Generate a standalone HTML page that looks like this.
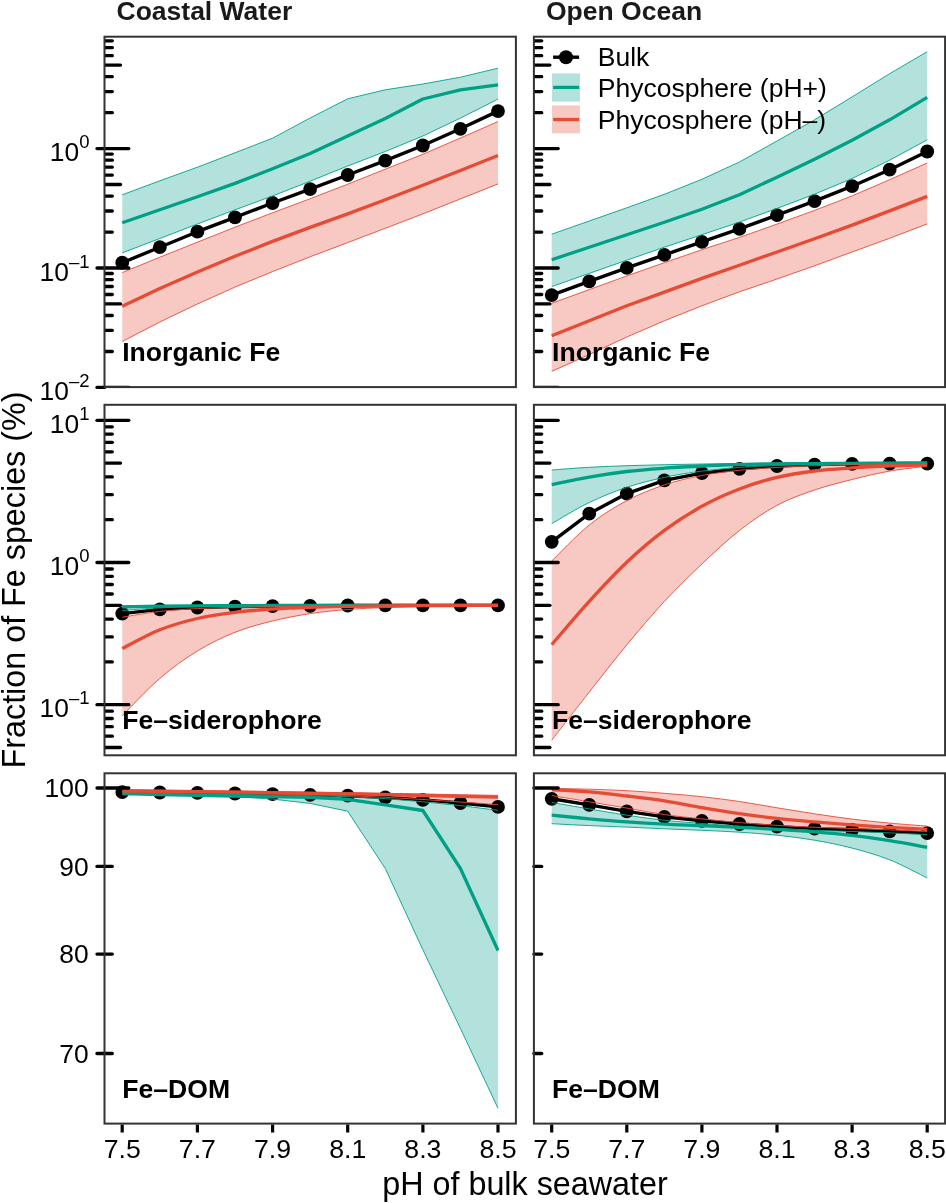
<!DOCTYPE html>
<html><head><meta charset="utf-8"><title>Fe species</title>
<style>
html,body{margin:0;padding:0;background:#fff;}
body{width:946px;height:1203px;overflow:hidden;}
svg{display:block;will-change:transform;}
text{font-family:"Liberation Sans",sans-serif;}
</style></head><body>
<svg width="946" height="1203" viewBox="0 0 946 1203">
<rect width="946" height="1203" fill="#fff"/>

<defs>
<clipPath id="c00"><rect x="104.5" y="36.7" width="411.4" height="350.40000000000003"/></clipPath>
<clipPath id="c01"><rect x="104.5" y="404.8" width="411.4" height="350.49999999999994"/></clipPath>
<clipPath id="c02"><rect x="104.5" y="773.3" width="411.4" height="350.29999999999995"/></clipPath>
<clipPath id="c10"><rect x="533.9" y="36.7" width="411.20000000000005" height="350.40000000000003"/></clipPath>
<clipPath id="c11"><rect x="533.9" y="404.8" width="411.20000000000005" height="350.49999999999994"/></clipPath>
<clipPath id="c12"><rect x="533.9" y="773.3" width="411.20000000000005" height="350.29999999999995"/></clipPath>
</defs>
<!-- panel A -->
<g clip-path="url(#c00)"><path d="M122.25,194.8 L159.82,180.8 L197.40,167.2 L234.98,152.8 L272.55,138.2 L310.12,118.0 L347.70,98.8 L385.28,89.8 L422.85,84.0 L460.43,77.2 L498.00,68.2 L498.00,99.1 L460.43,118.1 L422.85,136.0 L385.28,151.5 L347.70,166.0 L310.12,181.2 L272.55,196.0 L234.98,209.8 L197.40,224.0 L159.82,238.5 L122.25,252.9Z" fill="#00A087" fill-opacity="0.3" stroke="none"/><path d="M122.25,272.6 L159.82,257.2 L197.40,242.2 L234.98,227.2 L272.55,212.8 L310.12,198.7 L347.70,184.2 L385.28,169.2 L422.85,154.3 L460.43,138.0 L498.00,121.6 L498.00,183.9 L460.43,198.9 L422.85,213.9 L385.28,228.3 L347.70,242.6 L310.12,256.8 L272.55,271.6 L234.98,287.1 L197.40,304.0 L159.82,322.0 L122.25,341.5Z" fill="#E64B35" fill-opacity="0.3" stroke="none"/><polyline points="122.25,262.7 159.82,247.2 197.40,231.7 234.98,217.3 272.55,203.0 310.12,189.1 347.70,175.0 385.28,160.7 422.85,145.5 460.43,128.8 498.00,111.1" fill="none" stroke="#000" stroke-width="3.4" stroke-linejoin="round"/><circle cx="122.25" cy="262.7" r="6.9" fill="#000"/><circle cx="159.82" cy="247.2" r="6.9" fill="#000"/><circle cx="197.40" cy="231.7" r="6.9" fill="#000"/><circle cx="234.98" cy="217.3" r="6.9" fill="#000"/><circle cx="272.55" cy="203.0" r="6.9" fill="#000"/><circle cx="310.12" cy="189.1" r="6.9" fill="#000"/><circle cx="347.70" cy="175.0" r="6.9" fill="#000"/><circle cx="385.28" cy="160.7" r="6.9" fill="#000"/><circle cx="422.85" cy="145.5" r="6.9" fill="#000"/><circle cx="460.43" cy="128.8" r="6.9" fill="#000"/><circle cx="498.00" cy="111.1" r="6.9" fill="#000"/><path d="M122.25,194.8 L159.82,180.8 L197.40,167.2 L234.98,152.8 L272.55,138.2 L310.12,118.0 L347.70,98.8 L385.28,89.8 L422.85,84.0 L460.43,77.2 L498.00,68.2" fill="none" stroke="#00A087" stroke-width="0.9"/><path d="M122.25,252.9 L159.82,238.5 L197.40,224.0 L234.98,209.8 L272.55,196.0 L310.12,181.2 L347.70,166.0 L385.28,151.5 L422.85,136.0 L460.43,118.1 L498.00,99.1" fill="none" stroke="#00A087" stroke-width="0.9"/><path d="M122.25,222.7 L159.82,209.8 L197.40,196.8 L234.98,183.4 L272.55,168.8 L310.12,153.5 L347.70,136.0 L385.28,118.5 L422.85,99.0 L460.43,89.9 L498.00,84.9" fill="none" stroke="#00A087" stroke-width="3.3" stroke-linejoin="round"/><path d="M122.25,272.6 L159.82,257.2 L197.40,242.2 L234.98,227.2 L272.55,212.8 L310.12,198.7 L347.70,184.2 L385.28,169.2 L422.85,154.3 L460.43,138.0 L498.00,121.6" fill="none" stroke="#E64B35" stroke-width="0.9"/><path d="M122.25,341.5 L159.82,322.0 L197.40,304.0 L234.98,287.1 L272.55,271.6 L310.12,256.8 L347.70,242.6 L385.28,228.3 L422.85,213.9 L460.43,198.9 L498.00,183.9" fill="none" stroke="#E64B35" stroke-width="0.9"/><path d="M122.25,306.3 L159.82,288.4 L197.40,272.1 L234.98,256.2 L272.55,241.4 L310.12,227.4 L347.70,213.9 L385.28,199.7 L422.85,185.2 L460.43,170.5 L498.00,155.5" fill="none" stroke="#E64B35" stroke-width="3.3" stroke-linejoin="round"/></g>
<g stroke="#000" stroke-width="3.3" stroke-linecap="round" clip-path="url(#c00)"><line x1="104.5" y1="387.4" x2="128.8" y2="387.4"/><line x1="104.5" y1="351.5" x2="112.3" y2="351.5"/><line x1="104.5" y1="330.4" x2="112.3" y2="330.4"/><line x1="104.5" y1="315.5" x2="112.3" y2="315.5"/><line x1="104.5" y1="303.9" x2="120.5" y2="303.9"/><line x1="104.5" y1="294.5" x2="112.3" y2="294.5"/><line x1="104.5" y1="286.5" x2="112.3" y2="286.5"/><line x1="104.5" y1="279.6" x2="112.3" y2="279.6"/><line x1="104.5" y1="273.5" x2="112.3" y2="273.5"/><line x1="104.5" y1="268.0" x2="128.8" y2="268.0"/><line x1="104.5" y1="232.1" x2="112.3" y2="232.1"/><line x1="104.5" y1="211.0" x2="112.3" y2="211.0"/><line x1="104.5" y1="196.1" x2="112.3" y2="196.1"/><line x1="104.5" y1="184.5" x2="120.5" y2="184.5"/><line x1="104.5" y1="175.1" x2="112.3" y2="175.1"/><line x1="104.5" y1="167.1" x2="112.3" y2="167.1"/><line x1="104.5" y1="160.2" x2="112.3" y2="160.2"/><line x1="104.5" y1="154.1" x2="112.3" y2="154.1"/><line x1="104.5" y1="148.6" x2="128.8" y2="148.6"/><line x1="104.5" y1="112.7" x2="112.3" y2="112.7"/><line x1="104.5" y1="91.6" x2="112.3" y2="91.6"/><line x1="104.5" y1="76.7" x2="112.3" y2="76.7"/><line x1="104.5" y1="65.1" x2="120.5" y2="65.1"/><line x1="104.5" y1="55.7" x2="112.3" y2="55.7"/><line x1="104.5" y1="47.7" x2="112.3" y2="47.7"/><line x1="104.5" y1="40.8" x2="112.3" y2="40.8"/></g><g stroke="#000" stroke-width="3.3" stroke-linecap="round"><line x1="97.0" y1="387.4" x2="104.5" y2="387.4"/><line x1="97.0" y1="268.0" x2="104.5" y2="268.0"/><line x1="97.0" y1="148.6" x2="104.5" y2="148.6"/></g>
<rect x="104.5" y="36.7" width="411.4" height="350.4" fill="none" stroke="#333" stroke-width="2"/>
<!-- panel C -->
<g clip-path="url(#c01)"><path d="M122.25,605.80C128.51,605.75 147.30,605.58 159.82,605.50C172.35,605.42 184.88,605.35 197.40,605.30C209.93,605.25 222.45,605.23 234.98,605.20C247.50,605.17 260.03,605.12 272.55,605.10C285.07,605.08 297.60,605.10 310.12,605.10C322.65,605.10 335.18,605.10 347.70,605.10C360.23,605.10 372.75,605.10 385.28,605.10C397.80,605.10 410.33,605.10 422.85,605.10C435.38,605.10 447.90,605.10 460.43,605.10C472.95,605.10 491.74,605.10 498.00,605.10L498.00,605.50C491.74,605.50 472.95,605.50 460.43,605.50C447.90,605.50 435.38,605.50 422.85,605.50C410.33,605.50 397.80,605.50 385.28,605.50C372.75,605.50 360.23,605.48 347.70,605.50C335.18,605.52 322.65,605.55 310.12,605.60C297.60,605.65 285.07,605.72 272.55,605.80C260.03,605.88 247.50,605.97 234.98,606.10C222.45,606.23 209.93,606.32 197.40,606.60C184.88,606.88 172.35,607.15 159.82,607.80C147.30,608.45 128.51,610.05 122.25,610.50Z" fill="#00A087" fill-opacity="0.3" stroke="none"/><path d="M122.25,617.20C128.51,616.23 147.30,612.83 159.82,611.40C172.35,609.97 184.88,609.27 197.40,608.60C209.93,607.93 222.45,607.72 234.98,607.40C247.50,607.08 260.03,606.88 272.55,606.70C285.07,606.52 297.60,606.42 310.12,606.30C322.65,606.18 335.18,606.08 347.70,606.00C360.23,605.92 372.75,605.85 385.28,605.80C397.80,605.75 410.33,605.73 422.85,605.70C435.38,605.67 447.90,605.63 460.43,605.60C472.95,605.57 491.74,605.52 498.00,605.50L498.00,605.70C491.74,605.75 472.95,605.87 460.43,606.00C447.90,606.13 435.38,606.25 422.85,606.50C410.33,606.75 397.80,607.00 385.28,607.50C372.75,608.00 360.23,608.48 347.70,609.50C335.18,610.52 322.65,611.68 310.12,613.60C297.60,615.52 285.07,617.88 272.55,621.00C260.03,624.12 247.50,627.30 234.98,632.30C222.45,637.30 209.93,643.32 197.40,651.00C184.88,658.68 172.35,667.60 159.82,678.40C147.30,689.20 128.51,709.57 122.25,715.80Z" fill="#E64B35" fill-opacity="0.3" stroke="none"/><polyline points="122.25,613.6 159.82,609.4 197.40,607.5 234.98,606.6 272.55,606.1 310.12,605.8 347.70,605.5 385.28,605.4 422.85,605.4 460.43,605.4 498.00,605.4" fill="none" stroke="#000" stroke-width="3.4" stroke-linejoin="round"/><circle cx="122.25" cy="613.6" r="6.9" fill="#000"/><circle cx="159.82" cy="609.4" r="6.9" fill="#000"/><circle cx="197.40" cy="607.5" r="6.9" fill="#000"/><circle cx="234.98" cy="606.6" r="6.9" fill="#000"/><circle cx="272.55" cy="606.1" r="6.9" fill="#000"/><circle cx="310.12" cy="605.8" r="6.9" fill="#000"/><circle cx="347.70" cy="605.5" r="6.9" fill="#000"/><circle cx="385.28" cy="605.4" r="6.9" fill="#000"/><circle cx="422.85" cy="605.4" r="6.9" fill="#000"/><circle cx="460.43" cy="605.4" r="6.9" fill="#000"/><circle cx="498.00" cy="605.4" r="6.9" fill="#000"/><path d="M122.25,605.80C128.51,605.75 147.30,605.58 159.82,605.50C172.35,605.42 184.88,605.35 197.40,605.30C209.93,605.25 222.45,605.23 234.98,605.20C247.50,605.17 260.03,605.12 272.55,605.10C285.07,605.08 297.60,605.10 310.12,605.10C322.65,605.10 335.18,605.10 347.70,605.10C360.23,605.10 372.75,605.10 385.28,605.10C397.80,605.10 410.33,605.10 422.85,605.10C435.38,605.10 447.90,605.10 460.43,605.10C472.95,605.10 491.74,605.10 498.00,605.10" fill="none" stroke="#00A087" stroke-width="0.9"/><path d="M122.25,610.50C128.51,610.05 147.30,608.45 159.82,607.80C172.35,607.15 184.88,606.88 197.40,606.60C209.93,606.32 222.45,606.23 234.98,606.10C247.50,605.97 260.03,605.88 272.55,605.80C285.07,605.72 297.60,605.65 310.12,605.60C322.65,605.55 335.18,605.52 347.70,605.50C360.23,605.48 372.75,605.50 385.28,605.50C397.80,605.50 410.33,605.50 422.85,605.50C435.38,605.50 447.90,605.50 460.43,605.50C472.95,605.50 491.74,605.50 498.00,605.50" fill="none" stroke="#00A087" stroke-width="0.9"/><path d="M122.25,606.80C128.51,606.68 147.30,606.27 159.82,606.10C172.35,605.93 184.88,605.88 197.40,605.80C209.93,605.72 222.45,605.65 234.98,605.60C247.50,605.55 260.03,605.53 272.55,605.50C285.07,605.47 297.60,605.43 310.12,605.40C322.65,605.37 335.18,605.32 347.70,605.30C360.23,605.28 372.75,605.30 385.28,605.30C397.80,605.30 410.33,605.30 422.85,605.30C435.38,605.30 447.90,605.30 460.43,605.30C472.95,605.30 491.74,605.30 498.00,605.30" fill="none" stroke="#00A087" stroke-width="3.3" stroke-linejoin="round"/><path d="M122.25,617.20C128.51,616.23 147.30,612.83 159.82,611.40C172.35,609.97 184.88,609.27 197.40,608.60C209.93,607.93 222.45,607.72 234.98,607.40C247.50,607.08 260.03,606.88 272.55,606.70C285.07,606.52 297.60,606.42 310.12,606.30C322.65,606.18 335.18,606.08 347.70,606.00C360.23,605.92 372.75,605.85 385.28,605.80C397.80,605.75 410.33,605.73 422.85,605.70C435.38,605.67 447.90,605.63 460.43,605.60C472.95,605.57 491.74,605.52 498.00,605.50" fill="none" stroke="#E64B35" stroke-width="0.9"/><path d="M122.25,715.80C128.51,709.57 147.30,689.20 159.82,678.40C172.35,667.60 184.88,658.68 197.40,651.00C209.93,643.32 222.45,637.30 234.98,632.30C247.50,627.30 260.03,624.12 272.55,621.00C285.07,617.88 297.60,615.52 310.12,613.60C322.65,611.68 335.18,610.52 347.70,609.50C360.23,608.48 372.75,608.00 385.28,607.50C397.80,607.00 410.33,606.75 422.85,606.50C435.38,606.25 447.90,606.13 460.43,606.00C472.95,605.87 491.74,605.75 498.00,605.70" fill="none" stroke="#E64B35" stroke-width="0.9"/><path d="M122.25,648.50C128.51,645.38 147.30,634.80 159.82,629.80C172.35,624.80 184.88,621.42 197.40,618.50C209.93,615.58 222.45,613.87 234.98,612.30C247.50,610.73 260.03,609.93 272.55,609.10C285.07,608.27 297.60,607.75 310.12,607.30C322.65,606.85 335.18,606.63 347.70,606.40C360.23,606.17 372.75,606.03 385.28,605.90C397.80,605.77 410.33,605.67 422.85,605.60C435.38,605.53 447.90,605.53 460.43,605.50C472.95,605.47 491.74,605.42 498.00,605.40" fill="none" stroke="#E64B35" stroke-width="3.3" stroke-linejoin="round"/></g>
<g stroke="#000" stroke-width="3.3" stroke-linecap="round" clip-path="url(#c01)"><line x1="104.5" y1="747.5" x2="120.5" y2="747.5"/><line x1="104.5" y1="736.2" x2="112.3" y2="736.2"/><line x1="104.5" y1="726.7" x2="112.3" y2="726.7"/><line x1="104.5" y1="718.5" x2="112.3" y2="718.5"/><line x1="104.5" y1="711.2" x2="112.3" y2="711.2"/><line x1="104.5" y1="704.7" x2="128.8" y2="704.7"/><line x1="104.5" y1="661.9" x2="112.3" y2="661.9"/><line x1="104.5" y1="636.9" x2="112.3" y2="636.9"/><line x1="104.5" y1="619.1" x2="112.3" y2="619.1"/><line x1="104.5" y1="605.3" x2="120.5" y2="605.3"/><line x1="104.5" y1="594.0" x2="112.3" y2="594.0"/><line x1="104.5" y1="584.5" x2="112.3" y2="584.5"/><line x1="104.5" y1="576.3" x2="112.3" y2="576.3"/><line x1="104.5" y1="569.0" x2="112.3" y2="569.0"/><line x1="104.5" y1="562.5" x2="128.8" y2="562.5"/><line x1="104.5" y1="519.7" x2="112.3" y2="519.7"/><line x1="104.5" y1="494.7" x2="112.3" y2="494.7"/><line x1="104.5" y1="476.9" x2="112.3" y2="476.9"/><line x1="104.5" y1="463.1" x2="120.5" y2="463.1"/><line x1="104.5" y1="451.8" x2="112.3" y2="451.8"/><line x1="104.5" y1="442.3" x2="112.3" y2="442.3"/><line x1="104.5" y1="434.1" x2="112.3" y2="434.1"/><line x1="104.5" y1="426.8" x2="112.3" y2="426.8"/><line x1="104.5" y1="420.3" x2="128.8" y2="420.3"/></g><g stroke="#000" stroke-width="3.3" stroke-linecap="round"><line x1="97.0" y1="704.7" x2="104.5" y2="704.7"/><line x1="97.0" y1="562.5" x2="104.5" y2="562.5"/><line x1="97.0" y1="420.3" x2="104.5" y2="420.3"/></g>
<rect x="104.5" y="404.8" width="411.4" height="350.5" fill="none" stroke="#333" stroke-width="2"/>
<!-- panel E -->
<g clip-path="url(#c02)"><path d="M122.25,793.0 L159.82,793.5 L197.40,793.9 L234.98,794.4 L272.55,795.0 L310.12,795.7 L347.70,796.7 L385.28,798.6 L422.85,801.8 L460.43,805.6 L498.00,810.3 L498.00,1108.3 L460.43,1028.5 L422.85,949.7 L385.28,868.5 L347.70,811.2 L310.12,803.4 L272.55,799.1 L234.98,796.8 L197.40,795.6 L159.82,794.8 L122.25,794.0Z" fill="#00A087" fill-opacity="0.3" stroke="none"/><path d="M122.25,789.9 L159.82,790.3 L197.40,790.7 L234.98,791.1 L272.55,791.6 L310.12,792.1 L347.70,792.6 L385.28,793.3 L422.85,794.0 L460.43,794.7 L498.00,795.4 L498.00,804.6 L460.43,802.0 L422.85,799.5 L385.28,797.3 L347.70,795.7 L310.12,794.8 L272.55,794.1 L234.98,793.5 L197.40,793.0 L159.82,792.5 L122.25,792.0Z" fill="#E64B35" fill-opacity="0.3" stroke="none"/><polyline points="122.25,792.1 159.82,792.5 197.40,792.9 234.98,793.5 272.55,794.1 310.12,794.8 347.70,795.7 385.28,797.4 422.85,799.9 460.43,803.0 498.00,806.9" fill="none" stroke="#000" stroke-width="3.4" stroke-linejoin="round"/><circle cx="122.25" cy="792.1" r="6.9" fill="#000"/><circle cx="159.82" cy="792.5" r="6.9" fill="#000"/><circle cx="197.40" cy="792.9" r="6.9" fill="#000"/><circle cx="234.98" cy="793.5" r="6.9" fill="#000"/><circle cx="272.55" cy="794.1" r="6.9" fill="#000"/><circle cx="310.12" cy="794.8" r="6.9" fill="#000"/><circle cx="347.70" cy="795.7" r="6.9" fill="#000"/><circle cx="385.28" cy="797.4" r="6.9" fill="#000"/><circle cx="422.85" cy="799.9" r="6.9" fill="#000"/><circle cx="460.43" cy="803.0" r="6.9" fill="#000"/><circle cx="498.00" cy="806.9" r="6.9" fill="#000"/><path d="M122.25,793.0 L159.82,793.5 L197.40,793.9 L234.98,794.4 L272.55,795.0 L310.12,795.7 L347.70,796.7 L385.28,798.6 L422.85,801.8 L460.43,805.6 L498.00,810.3" fill="none" stroke="#00A087" stroke-width="0.9"/><path d="M122.25,794.0 L159.82,794.8 L197.40,795.6 L234.98,796.8 L272.55,799.1 L310.12,803.4 L347.70,811.2 L385.28,868.5 L422.85,949.7 L460.43,1028.5 L498.00,1108.3" fill="none" stroke="#00A087" stroke-width="0.9"/><path d="M122.25,793.5 L159.82,794.5 L197.40,795.3 L234.98,796.0 L272.55,796.6 L310.12,797.3 L347.70,799.4 L385.28,804.9 L422.85,810.5 L460.43,868.5 L498.00,950.5" fill="none" stroke="#00A087" stroke-width="3.3" stroke-linejoin="round"/><path d="M122.25,789.9 L159.82,790.3 L197.40,790.7 L234.98,791.1 L272.55,791.6 L310.12,792.1 L347.70,792.6 L385.28,793.3 L422.85,794.0 L460.43,794.7 L498.00,795.4" fill="none" stroke="#E64B35" stroke-width="0.9"/><path d="M122.25,792.0 L159.82,792.5 L197.40,793.0 L234.98,793.5 L272.55,794.1 L310.12,794.8 L347.70,795.7 L385.28,797.3 L422.85,799.5 L460.43,802.0 L498.00,804.6" fill="none" stroke="#E64B35" stroke-width="0.9"/><path d="M122.25,790.7 L159.82,791.1 L197.40,791.6 L234.98,792.1 L272.55,792.7 L310.12,793.3 L347.70,793.9 L385.28,794.6 L422.85,795.5 L460.43,796.3 L498.00,797.2" fill="none" stroke="#E64B35" stroke-width="3.3" stroke-linejoin="round"/></g>
<g stroke="#000" stroke-width="3.3" stroke-linecap="round"><line x1="97.0" y1="788.0" x2="128.8" y2="788.0"/><line x1="97.0" y1="866.4" x2="112.3" y2="866.4"/><line x1="97.0" y1="954.1" x2="112.3" y2="954.1"/><line x1="97.0" y1="1053.5" x2="112.3" y2="1053.5"/></g>
<rect x="104.5" y="773.3" width="411.4" height="350.3" fill="none" stroke="#333" stroke-width="2"/>
<!-- panel B -->
<g clip-path="url(#c10)"><path d="M551.70,234.2 L589.25,221.0 L626.80,207.8 L664.35,194.3 L701.90,179.3 L739.45,162.0 L777.00,141.0 L814.55,119.8 L852.10,96.9 L889.65,73.7 L927.20,51.7 L927.20,139.8 L889.65,160.2 L852.10,178.5 L814.55,194.2 L777.00,208.4 L739.45,222.1 L701.90,234.7 L664.35,247.2 L626.80,260.2 L589.25,273.4 L551.70,286.6Z" fill="#00A087" fill-opacity="0.3" stroke="none"/><path d="M551.70,303.3 L589.25,289.6 L626.80,275.9 L664.35,262.7 L701.90,249.7 L739.45,237.4 L777.00,224.1 L814.55,210.4 L852.10,195.9 L889.65,179.7 L927.20,163.0 L927.20,223.9 L889.65,238.3 L852.10,252.0 L814.55,265.8 L777.00,279.0 L739.45,291.8 L701.90,305.8 L664.35,320.8 L626.80,337.0 L589.25,354.5 L551.70,371.4Z" fill="#E64B35" fill-opacity="0.3" stroke="none"/><polyline points="551.70,295.1 589.25,281.4 626.80,267.9 664.35,254.9 701.90,241.9 739.45,228.9 777.00,215.1 814.55,201.2 852.10,186.2 889.65,169.7 927.20,151.5" fill="none" stroke="#000" stroke-width="3.4" stroke-linejoin="round"/><circle cx="551.70" cy="295.1" r="6.9" fill="#000"/><circle cx="589.25" cy="281.4" r="6.9" fill="#000"/><circle cx="626.80" cy="267.9" r="6.9" fill="#000"/><circle cx="664.35" cy="254.9" r="6.9" fill="#000"/><circle cx="701.90" cy="241.9" r="6.9" fill="#000"/><circle cx="739.45" cy="228.9" r="6.9" fill="#000"/><circle cx="777.00" cy="215.1" r="6.9" fill="#000"/><circle cx="814.55" cy="201.2" r="6.9" fill="#000"/><circle cx="852.10" cy="186.2" r="6.9" fill="#000"/><circle cx="889.65" cy="169.7" r="6.9" fill="#000"/><circle cx="927.20" cy="151.5" r="6.9" fill="#000"/><path d="M551.70,234.2 L589.25,221.0 L626.80,207.8 L664.35,194.3 L701.90,179.3 L739.45,162.0 L777.00,141.0 L814.55,119.8 L852.10,96.9 L889.65,73.7 L927.20,51.7" fill="none" stroke="#00A087" stroke-width="0.9"/><path d="M551.70,286.6 L589.25,273.4 L626.80,260.2 L664.35,247.2 L701.90,234.7 L739.45,222.1 L777.00,208.4 L814.55,194.2 L852.10,178.5 L889.65,160.2 L927.20,139.8" fill="none" stroke="#00A087" stroke-width="0.9"/><path d="M551.70,259.7 L589.25,247.2 L626.80,234.7 L664.35,222.2 L701.90,209.3 L739.45,194.7 L777.00,177.2 L814.55,159.2 L852.10,140.3 L889.65,119.8 L927.20,97.4" fill="none" stroke="#00A087" stroke-width="3.3" stroke-linejoin="round"/><path d="M551.70,303.3 L589.25,289.6 L626.80,275.9 L664.35,262.7 L701.90,249.7 L739.45,237.4 L777.00,224.1 L814.55,210.4 L852.10,195.9 L889.65,179.7 L927.20,163.0" fill="none" stroke="#E64B35" stroke-width="0.9"/><path d="M551.70,371.4 L589.25,354.5 L626.80,337.0 L664.35,320.8 L701.90,305.8 L739.45,291.8 L777.00,279.0 L814.55,265.8 L852.10,252.0 L889.65,238.3 L927.20,223.9" fill="none" stroke="#E64B35" stroke-width="0.9"/><path d="M551.70,335.8 L589.25,320.8 L626.80,305.8 L664.35,292.1 L701.90,278.4 L739.45,265.2 L777.00,252.0 L814.55,238.8 L852.10,225.1 L889.65,210.9 L927.20,196.4" fill="none" stroke="#E64B35" stroke-width="3.3" stroke-linejoin="round"/></g>
<g stroke="#000" stroke-width="3.3" stroke-linecap="round" clip-path="url(#c10)"><line x1="533.9" y1="387.4" x2="558.2" y2="387.4"/><line x1="533.9" y1="351.5" x2="541.7" y2="351.5"/><line x1="533.9" y1="330.4" x2="541.7" y2="330.4"/><line x1="533.9" y1="315.5" x2="541.7" y2="315.5"/><line x1="533.9" y1="303.9" x2="549.9" y2="303.9"/><line x1="533.9" y1="294.5" x2="541.7" y2="294.5"/><line x1="533.9" y1="286.5" x2="541.7" y2="286.5"/><line x1="533.9" y1="279.6" x2="541.7" y2="279.6"/><line x1="533.9" y1="273.5" x2="541.7" y2="273.5"/><line x1="533.9" y1="268.0" x2="558.2" y2="268.0"/><line x1="533.9" y1="232.1" x2="541.7" y2="232.1"/><line x1="533.9" y1="211.0" x2="541.7" y2="211.0"/><line x1="533.9" y1="196.1" x2="541.7" y2="196.1"/><line x1="533.9" y1="184.5" x2="549.9" y2="184.5"/><line x1="533.9" y1="175.1" x2="541.7" y2="175.1"/><line x1="533.9" y1="167.1" x2="541.7" y2="167.1"/><line x1="533.9" y1="160.2" x2="541.7" y2="160.2"/><line x1="533.9" y1="154.1" x2="541.7" y2="154.1"/><line x1="533.9" y1="148.6" x2="558.2" y2="148.6"/><line x1="533.9" y1="112.7" x2="541.7" y2="112.7"/><line x1="533.9" y1="91.6" x2="541.7" y2="91.6"/><line x1="533.9" y1="76.7" x2="541.7" y2="76.7"/><line x1="533.9" y1="65.1" x2="549.9" y2="65.1"/><line x1="533.9" y1="55.7" x2="541.7" y2="55.7"/><line x1="533.9" y1="47.7" x2="541.7" y2="47.7"/><line x1="533.9" y1="40.8" x2="541.7" y2="40.8"/></g><g stroke="#000" stroke-width="3.3" stroke-linecap="round"></g>
<rect x="533.9" y="36.7" width="411.2" height="350.4" fill="none" stroke="#333" stroke-width="2"/>
<!-- panel D -->
<g clip-path="url(#c11)"><path d="M551.70,470.00C557.96,469.55 576.73,468.02 589.25,467.30C601.77,466.58 614.28,466.13 626.80,465.70C639.32,465.27 651.83,464.98 664.35,464.70C676.87,464.42 689.38,464.22 701.90,464.00C714.42,463.78 726.93,463.57 739.45,463.40C751.97,463.23 764.48,463.12 777.00,463.00C789.52,462.88 802.03,462.78 814.55,462.70C827.07,462.62 839.58,462.55 852.10,462.50C864.62,462.45 877.13,462.43 889.65,462.40C902.17,462.37 920.94,462.32 927.20,462.30L927.20,463.50C920.94,463.53 902.17,463.62 889.65,463.70C877.13,463.78 864.62,463.87 852.10,464.00C839.58,464.13 827.07,464.25 814.55,464.50C802.03,464.75 789.52,465.02 777.00,465.50C764.48,465.98 751.97,466.47 739.45,467.40C726.93,468.33 714.42,469.43 701.90,471.10C689.38,472.77 676.87,474.70 664.35,477.40C651.83,480.10 639.32,483.12 626.80,487.30C614.28,491.48 601.77,496.45 589.25,502.50C576.73,508.55 557.96,520.08 551.70,523.60Z" fill="#00A087" fill-opacity="0.3" stroke="none"/><path d="M551.70,561.00C557.96,555.00 576.73,535.07 589.25,525.00C601.77,514.93 614.28,507.28 626.80,500.60C639.32,493.92 651.83,489.08 664.35,484.90C676.87,480.72 689.38,477.93 701.90,475.50C714.42,473.07 726.93,471.65 739.45,470.30C751.97,468.95 764.48,468.17 777.00,467.40C789.52,466.63 802.03,466.13 814.55,465.70C827.07,465.27 839.58,465.02 852.10,464.80C864.62,464.58 877.13,464.50 889.65,464.40C902.17,464.30 920.94,464.23 927.20,464.20L927.20,466.20C920.94,467.02 902.17,468.88 889.65,471.10C877.13,473.32 864.62,476.35 852.10,479.50C839.58,482.65 827.07,485.70 814.55,490.00C802.03,494.30 789.52,498.55 777.00,505.30C764.48,512.05 751.97,520.72 739.45,530.50C726.93,540.28 714.42,552.17 701.90,564.00C689.38,575.83 676.87,588.02 664.35,601.50C651.83,614.98 639.32,629.80 626.80,644.90C614.28,660.00 601.77,676.20 589.25,692.10C576.73,708.00 557.96,732.27 551.70,740.30Z" fill="#E64B35" fill-opacity="0.3" stroke="none"/><polyline points="551.70,541.8 589.25,513.6 626.80,493.6 664.35,480.4 701.90,473.2 739.45,468.8 777.00,466.0 814.55,464.6 852.10,463.9 889.65,463.7 927.20,463.7" fill="none" stroke="#000" stroke-width="3.4" stroke-linejoin="round"/><circle cx="551.70" cy="541.8" r="6.9" fill="#000"/><circle cx="589.25" cy="513.6" r="6.9" fill="#000"/><circle cx="626.80" cy="493.6" r="6.9" fill="#000"/><circle cx="664.35" cy="480.4" r="6.9" fill="#000"/><circle cx="701.90" cy="473.2" r="6.9" fill="#000"/><circle cx="739.45" cy="468.8" r="6.9" fill="#000"/><circle cx="777.00" cy="466.0" r="6.9" fill="#000"/><circle cx="814.55" cy="464.6" r="6.9" fill="#000"/><circle cx="852.10" cy="463.9" r="6.9" fill="#000"/><circle cx="889.65" cy="463.7" r="6.9" fill="#000"/><circle cx="927.20" cy="463.7" r="6.9" fill="#000"/><path d="M551.70,470.00C557.96,469.55 576.73,468.02 589.25,467.30C601.77,466.58 614.28,466.13 626.80,465.70C639.32,465.27 651.83,464.98 664.35,464.70C676.87,464.42 689.38,464.22 701.90,464.00C714.42,463.78 726.93,463.57 739.45,463.40C751.97,463.23 764.48,463.12 777.00,463.00C789.52,462.88 802.03,462.78 814.55,462.70C827.07,462.62 839.58,462.55 852.10,462.50C864.62,462.45 877.13,462.43 889.65,462.40C902.17,462.37 920.94,462.32 927.20,462.30" fill="none" stroke="#00A087" stroke-width="0.9"/><path d="M551.70,523.60C557.96,520.08 576.73,508.55 589.25,502.50C601.77,496.45 614.28,491.48 626.80,487.30C639.32,483.12 651.83,480.10 664.35,477.40C676.87,474.70 689.38,472.77 701.90,471.10C714.42,469.43 726.93,468.33 739.45,467.40C751.97,466.47 764.48,465.98 777.00,465.50C789.52,465.02 802.03,464.75 814.55,464.50C827.07,464.25 839.58,464.13 852.10,464.00C864.62,463.87 877.13,463.78 889.65,463.70C902.17,463.62 920.94,463.53 927.20,463.50" fill="none" stroke="#00A087" stroke-width="0.9"/><path d="M551.70,484.70C557.96,483.43 576.73,479.30 589.25,477.10C601.77,474.90 614.28,472.98 626.80,471.50C639.32,470.02 651.83,469.12 664.35,468.20C676.87,467.28 689.38,466.58 701.90,466.00C714.42,465.42 726.93,465.05 739.45,464.70C751.97,464.35 764.48,464.08 777.00,463.90C789.52,463.72 802.03,463.70 814.55,463.60C827.07,463.50 839.58,463.38 852.10,463.30C864.62,463.22 877.13,463.17 889.65,463.10C902.17,463.03 920.94,462.93 927.20,462.90" fill="none" stroke="#00A087" stroke-width="3.3" stroke-linejoin="round"/><path d="M551.70,561.00C557.96,555.00 576.73,535.07 589.25,525.00C601.77,514.93 614.28,507.28 626.80,500.60C639.32,493.92 651.83,489.08 664.35,484.90C676.87,480.72 689.38,477.93 701.90,475.50C714.42,473.07 726.93,471.65 739.45,470.30C751.97,468.95 764.48,468.17 777.00,467.40C789.52,466.63 802.03,466.13 814.55,465.70C827.07,465.27 839.58,465.02 852.10,464.80C864.62,464.58 877.13,464.50 889.65,464.40C902.17,464.30 920.94,464.23 927.20,464.20" fill="none" stroke="#E64B35" stroke-width="0.9"/><path d="M551.70,740.30C557.96,732.27 576.73,708.00 589.25,692.10C601.77,676.20 614.28,660.00 626.80,644.90C639.32,629.80 651.83,614.98 664.35,601.50C676.87,588.02 689.38,575.83 701.90,564.00C714.42,552.17 726.93,540.28 739.45,530.50C751.97,520.72 764.48,512.05 777.00,505.30C789.52,498.55 802.03,494.30 814.55,490.00C827.07,485.70 839.58,482.65 852.10,479.50C864.62,476.35 877.13,473.32 889.65,471.10C902.17,468.88 920.94,467.02 927.20,466.20" fill="none" stroke="#E64B35" stroke-width="0.9"/><path d="M551.70,644.60C557.96,637.38 576.73,615.03 589.25,601.30C601.77,587.57 614.28,574.02 626.80,562.20C639.32,550.38 651.83,539.72 664.35,530.40C676.87,521.08 689.38,513.20 701.90,506.30C714.42,499.40 726.93,493.82 739.45,489.00C751.97,484.18 764.48,480.40 777.00,477.40C789.52,474.40 802.03,472.58 814.55,471.00C827.07,469.42 839.58,468.75 852.10,467.90C864.62,467.05 877.13,466.40 889.65,465.90C902.17,465.40 920.94,465.07 927.20,464.90" fill="none" stroke="#E64B35" stroke-width="3.3" stroke-linejoin="round"/></g>
<g stroke="#000" stroke-width="3.3" stroke-linecap="round" clip-path="url(#c11)"><line x1="533.9" y1="747.5" x2="549.9" y2="747.5"/><line x1="533.9" y1="736.2" x2="541.7" y2="736.2"/><line x1="533.9" y1="726.7" x2="541.7" y2="726.7"/><line x1="533.9" y1="718.5" x2="541.7" y2="718.5"/><line x1="533.9" y1="711.2" x2="541.7" y2="711.2"/><line x1="533.9" y1="704.7" x2="558.2" y2="704.7"/><line x1="533.9" y1="661.9" x2="541.7" y2="661.9"/><line x1="533.9" y1="636.9" x2="541.7" y2="636.9"/><line x1="533.9" y1="619.1" x2="541.7" y2="619.1"/><line x1="533.9" y1="605.3" x2="549.9" y2="605.3"/><line x1="533.9" y1="594.0" x2="541.7" y2="594.0"/><line x1="533.9" y1="584.5" x2="541.7" y2="584.5"/><line x1="533.9" y1="576.3" x2="541.7" y2="576.3"/><line x1="533.9" y1="569.0" x2="541.7" y2="569.0"/><line x1="533.9" y1="562.5" x2="558.2" y2="562.5"/><line x1="533.9" y1="519.7" x2="541.7" y2="519.7"/><line x1="533.9" y1="494.7" x2="541.7" y2="494.7"/><line x1="533.9" y1="476.9" x2="541.7" y2="476.9"/><line x1="533.9" y1="463.1" x2="549.9" y2="463.1"/><line x1="533.9" y1="451.8" x2="541.7" y2="451.8"/><line x1="533.9" y1="442.3" x2="541.7" y2="442.3"/><line x1="533.9" y1="434.1" x2="541.7" y2="434.1"/><line x1="533.9" y1="426.8" x2="541.7" y2="426.8"/><line x1="533.9" y1="420.3" x2="558.2" y2="420.3"/></g><g stroke="#000" stroke-width="3.3" stroke-linecap="round"></g>
<rect x="533.9" y="404.8" width="411.2" height="350.5" fill="none" stroke="#333" stroke-width="2"/>
<!-- panel F -->
<g clip-path="url(#c12)"><path d="M551.70,802.50C557.96,803.57 576.73,806.78 589.25,808.90C601.77,811.02 614.28,813.30 626.80,815.20C639.32,817.10 651.83,818.92 664.35,820.30C676.87,821.68 689.38,822.50 701.90,823.50C714.42,824.50 726.93,825.45 739.45,826.30C751.97,827.15 764.48,827.92 777.00,828.60C789.52,829.28 802.03,829.92 814.55,830.40C827.07,830.88 839.58,831.08 852.10,831.50C864.62,831.92 877.13,832.38 889.65,832.90C902.17,833.42 920.94,834.32 927.20,834.60L927.20,878.00C920.94,874.97 902.17,864.78 889.65,859.80C877.13,854.82 864.62,851.37 852.10,848.10C839.58,844.83 827.07,842.35 814.55,840.20C802.03,838.05 789.52,836.53 777.00,835.20C764.48,833.87 751.97,833.02 739.45,832.20C726.93,831.38 714.42,830.87 701.90,830.30C689.38,829.73 676.87,829.33 664.35,828.80C651.83,828.27 639.32,827.63 626.80,827.10C614.28,826.57 601.77,826.17 589.25,825.60C576.73,825.03 557.96,824.02 551.70,823.70Z" fill="#00A087" fill-opacity="0.3" stroke="none"/><path d="M551.70,788.50C557.96,788.62 576.73,788.83 589.25,789.20C601.77,789.57 614.28,790.02 626.80,790.70C639.32,791.38 651.83,792.30 664.35,793.30C676.87,794.30 689.38,795.33 701.90,796.70C714.42,798.07 726.93,799.65 739.45,801.50C751.97,803.35 764.48,805.75 777.00,807.80C789.52,809.85 802.03,811.92 814.55,813.80C827.07,815.68 839.58,817.55 852.10,819.10C864.62,820.65 877.13,821.93 889.65,823.10C902.17,824.27 920.94,825.60 927.20,826.10L927.20,831.50C920.94,831.23 902.17,830.40 889.65,829.90C877.13,829.40 864.62,828.93 852.10,828.50C839.58,828.07 827.07,827.82 814.55,827.30C802.03,826.78 789.52,826.18 777.00,825.40C764.48,824.62 751.97,823.68 739.45,822.60C726.93,821.52 714.42,820.23 701.90,818.90C689.38,817.57 676.87,816.40 664.35,814.60C651.83,812.80 639.32,810.23 626.80,808.10C614.28,805.97 601.77,803.90 589.25,801.80C576.73,799.70 557.96,796.55 551.70,795.50Z" fill="#E64B35" fill-opacity="0.3" stroke="none"/><polyline points="551.70,798.8 589.25,804.9 626.80,811.4 664.35,816.9 701.90,820.8 739.45,824.0 777.00,826.6 814.55,828.6 852.10,829.8 889.65,831.3 927.20,833.1" fill="none" stroke="#000" stroke-width="3.4" stroke-linejoin="round"/><circle cx="551.70" cy="798.8" r="6.9" fill="#000"/><circle cx="589.25" cy="804.9" r="6.9" fill="#000"/><circle cx="626.80" cy="811.4" r="6.9" fill="#000"/><circle cx="664.35" cy="816.9" r="6.9" fill="#000"/><circle cx="701.90" cy="820.8" r="6.9" fill="#000"/><circle cx="739.45" cy="824.0" r="6.9" fill="#000"/><circle cx="777.00" cy="826.6" r="6.9" fill="#000"/><circle cx="814.55" cy="828.6" r="6.9" fill="#000"/><circle cx="852.10" cy="829.8" r="6.9" fill="#000"/><circle cx="889.65" cy="831.3" r="6.9" fill="#000"/><circle cx="927.20" cy="833.1" r="6.9" fill="#000"/><path d="M551.70,802.50C557.96,803.57 576.73,806.78 589.25,808.90C601.77,811.02 614.28,813.30 626.80,815.20C639.32,817.10 651.83,818.92 664.35,820.30C676.87,821.68 689.38,822.50 701.90,823.50C714.42,824.50 726.93,825.45 739.45,826.30C751.97,827.15 764.48,827.92 777.00,828.60C789.52,829.28 802.03,829.92 814.55,830.40C827.07,830.88 839.58,831.08 852.10,831.50C864.62,831.92 877.13,832.38 889.65,832.90C902.17,833.42 920.94,834.32 927.20,834.60" fill="none" stroke="#00A087" stroke-width="0.9"/><path d="M551.70,823.70C557.96,824.02 576.73,825.03 589.25,825.60C601.77,826.17 614.28,826.57 626.80,827.10C639.32,827.63 651.83,828.27 664.35,828.80C676.87,829.33 689.38,829.73 701.90,830.30C714.42,830.87 726.93,831.38 739.45,832.20C751.97,833.02 764.48,833.87 777.00,835.20C789.52,836.53 802.03,838.05 814.55,840.20C827.07,842.35 839.58,844.83 852.10,848.10C864.62,851.37 877.13,854.82 889.65,859.80C902.17,864.78 920.94,874.97 927.20,878.00" fill="none" stroke="#00A087" stroke-width="0.9"/><path d="M551.70,815.20C557.96,815.80 576.73,817.68 589.25,818.80C601.77,819.92 614.28,821.00 626.80,821.90C639.32,822.80 651.83,823.57 664.35,824.20C676.87,824.83 689.38,825.18 701.90,825.70C714.42,826.22 726.93,826.68 739.45,827.30C751.97,827.92 764.48,828.63 777.00,829.40C789.52,830.17 802.03,830.90 814.55,831.90C827.07,832.90 839.58,833.95 852.10,835.40C864.62,836.85 877.13,838.62 889.65,840.60C902.17,842.58 920.94,846.18 927.20,847.30" fill="none" stroke="#00A087" stroke-width="3.3" stroke-linejoin="round"/><path d="M551.70,788.50C557.96,788.62 576.73,788.83 589.25,789.20C601.77,789.57 614.28,790.02 626.80,790.70C639.32,791.38 651.83,792.30 664.35,793.30C676.87,794.30 689.38,795.33 701.90,796.70C714.42,798.07 726.93,799.65 739.45,801.50C751.97,803.35 764.48,805.75 777.00,807.80C789.52,809.85 802.03,811.92 814.55,813.80C827.07,815.68 839.58,817.55 852.10,819.10C864.62,820.65 877.13,821.93 889.65,823.10C902.17,824.27 920.94,825.60 927.20,826.10" fill="none" stroke="#E64B35" stroke-width="0.9"/><path d="M551.70,795.50C557.96,796.55 576.73,799.70 589.25,801.80C601.77,803.90 614.28,805.97 626.80,808.10C639.32,810.23 651.83,812.80 664.35,814.60C676.87,816.40 689.38,817.57 701.90,818.90C714.42,820.23 726.93,821.52 739.45,822.60C751.97,823.68 764.48,824.62 777.00,825.40C789.52,826.18 802.03,826.78 814.55,827.30C827.07,827.82 839.58,828.07 852.10,828.50C864.62,828.93 877.13,829.40 889.65,829.90C902.17,830.40 920.94,831.23 927.20,831.50" fill="none" stroke="#E64B35" stroke-width="0.9"/><path d="M551.70,789.60C557.96,789.97 576.73,790.73 589.25,791.80C601.77,792.87 614.28,794.48 626.80,796.00C639.32,797.52 651.83,798.95 664.35,800.90C676.87,802.85 689.38,805.58 701.90,807.70C714.42,809.82 726.93,811.82 739.45,813.60C751.97,815.38 764.48,817.02 777.00,818.40C789.52,819.78 802.03,820.82 814.55,821.90C827.07,822.98 839.58,823.98 852.10,824.90C864.62,825.82 877.13,826.65 889.65,827.40C902.17,828.15 920.94,829.07 927.20,829.40" fill="none" stroke="#E64B35" stroke-width="3.3" stroke-linejoin="round"/></g>
<g stroke="#000" stroke-width="3.3" stroke-linecap="round"><line x1="533.9" y1="788.0" x2="558.2" y2="788.0"/><line x1="533.9" y1="866.4" x2="541.7" y2="866.4"/><line x1="533.9" y1="954.1" x2="541.7" y2="954.1"/><line x1="533.9" y1="1053.5" x2="541.7" y2="1053.5"/></g>
<rect x="533.9" y="773.3" width="411.2" height="350.3" fill="none" stroke="#333" stroke-width="2"/>
<g stroke="#000" stroke-width="3.2"><line x1="122.2" y1="1124.6" x2="122.2" y2="1132.5"/><line x1="197.4" y1="1124.6" x2="197.4" y2="1132.5"/><line x1="272.6" y1="1124.6" x2="272.6" y2="1132.5"/><line x1="347.7" y1="1124.6" x2="347.7" y2="1132.5"/><line x1="422.9" y1="1124.6" x2="422.9" y2="1132.5"/><line x1="498.0" y1="1124.6" x2="498.0" y2="1132.5"/><line x1="551.7" y1="1124.6" x2="551.7" y2="1132.5"/><line x1="626.8" y1="1124.6" x2="626.8" y2="1132.5"/><line x1="701.9" y1="1124.6" x2="701.9" y2="1132.5"/><line x1="777.0" y1="1124.6" x2="777.0" y2="1132.5"/><line x1="852.1" y1="1124.6" x2="852.1" y2="1132.5"/><line x1="927.2" y1="1124.6" x2="927.2" y2="1132.5"/></g>
<g font-size="26.7" fill="#000" text-anchor="middle"><text x="122.2" y="1158.1">7.5</text><text x="197.4" y="1158.1">7.7</text><text x="272.6" y="1158.1">7.9</text><text x="347.7" y="1158.1">8.1</text><text x="422.9" y="1158.1">8.3</text><text x="498.0" y="1158.1">8.5</text><text x="551.7" y="1158.1">7.5</text><text x="626.8" y="1158.1">7.7</text><text x="701.9" y="1158.1">7.9</text><text x="777.0" y="1158.1">8.1</text><text x="852.1" y="1158.1">8.3</text><text x="927.2" y="1158.1">8.5</text></g>
<text x="89.5" y="161.2" font-size="26.4" text-anchor="end" fill="#000">10<tspan font-size="18.5" dy="-12.9">0</tspan></text>
<text x="89.5" y="280.6" font-size="26.4" text-anchor="end" fill="#000">10<tspan font-size="18.5" dy="-12.9">–1</tspan></text>
<text x="89.5" y="400.0" font-size="26.4" text-anchor="end" fill="#000">10<tspan font-size="18.5" dy="-12.9">–2</tspan></text>
<text x="89.5" y="432.9" font-size="26.4" text-anchor="end" fill="#000">10<tspan font-size="18.5" dy="-12.9">1</tspan></text>
<text x="89.5" y="575.1" font-size="26.4" text-anchor="end" fill="#000">10<tspan font-size="18.5" dy="-12.9">0</tspan></text>
<text x="89.5" y="717.3" font-size="26.4" text-anchor="end" fill="#000">10<tspan font-size="18.5" dy="-12.9">–1</tspan></text>
<text x="88.6" y="797.1" font-size="26.4" text-anchor="end" fill="#000">100</text>
<text x="88.6" y="875.5" font-size="26.4" text-anchor="end" fill="#000">90</text>
<text x="88.6" y="963.2" font-size="26.4" text-anchor="end" fill="#000">80</text>
<text x="88.6" y="1062.6" font-size="26.4" text-anchor="end" fill="#000">70</text>
<text x="116.5" y="19.8" font-size="26.5" font-weight="bold" fill="#1a1a1a">Coastal Water</text>
<text x="546" y="19.8" font-size="26.5" font-weight="bold" fill="#1a1a1a">Open Ocean</text>
<text x="122.2" y="360.8" font-size="26.6" font-weight="bold" fill="#000">Inorganic Fe</text>
<text x="122.2" y="728.7" font-size="26.6" font-weight="bold" fill="#000">Fe–siderophore</text>
<text x="122.2" y="1097.8" font-size="26.6" font-weight="bold" fill="#000">Fe–DOM</text>
<text x="552.0" y="360.8" font-size="26.6" font-weight="bold" fill="#000">Inorganic Fe</text>
<text x="552.0" y="728.7" font-size="26.6" font-weight="bold" fill="#000">Fe–siderophore</text>
<text x="552.0" y="1097.8" font-size="26.6" font-weight="bold" fill="#000">Fe–DOM</text>
<text x="525.0" y="1195.2" font-size="32.3" text-anchor="middle" fill="#000">pH of bulk seawater</text>
<text transform="translate(24.6,580) rotate(-90)" font-size="32.3" text-anchor="middle" fill="#000">Fraction of Fe species (%)</text>
<g>
<line x1="553.1" y1="57.2" x2="579.1" y2="57.2" stroke="#000" stroke-width="3.4"/><circle cx="566" cy="57.2" r="7" fill="#000"/>
<rect x="552.05" y="73.4" width="27.9" height="28.2" fill="#00A087" fill-opacity="0.3"/><line x1="553.1" y1="87.4" x2="579.1" y2="87.4" stroke="#00A087" stroke-width="3.3"/>
<rect x="552.05" y="105.4" width="27.9" height="28" fill="#E64B35" fill-opacity="0.3"/><line x1="553.1" y1="119.5" x2="579.1" y2="119.5" stroke="#E64B35" stroke-width="3.3"/>
<g font-size="26.5" fill="#000"><text x="597.8" y="66.3">Bulk</text><text x="597.8" y="96.5">Phycosphere (pH+)</text><text x="597.8" y="128.6">Phycosphere (pH–)</text></g>
</g>
</svg></body></html>
